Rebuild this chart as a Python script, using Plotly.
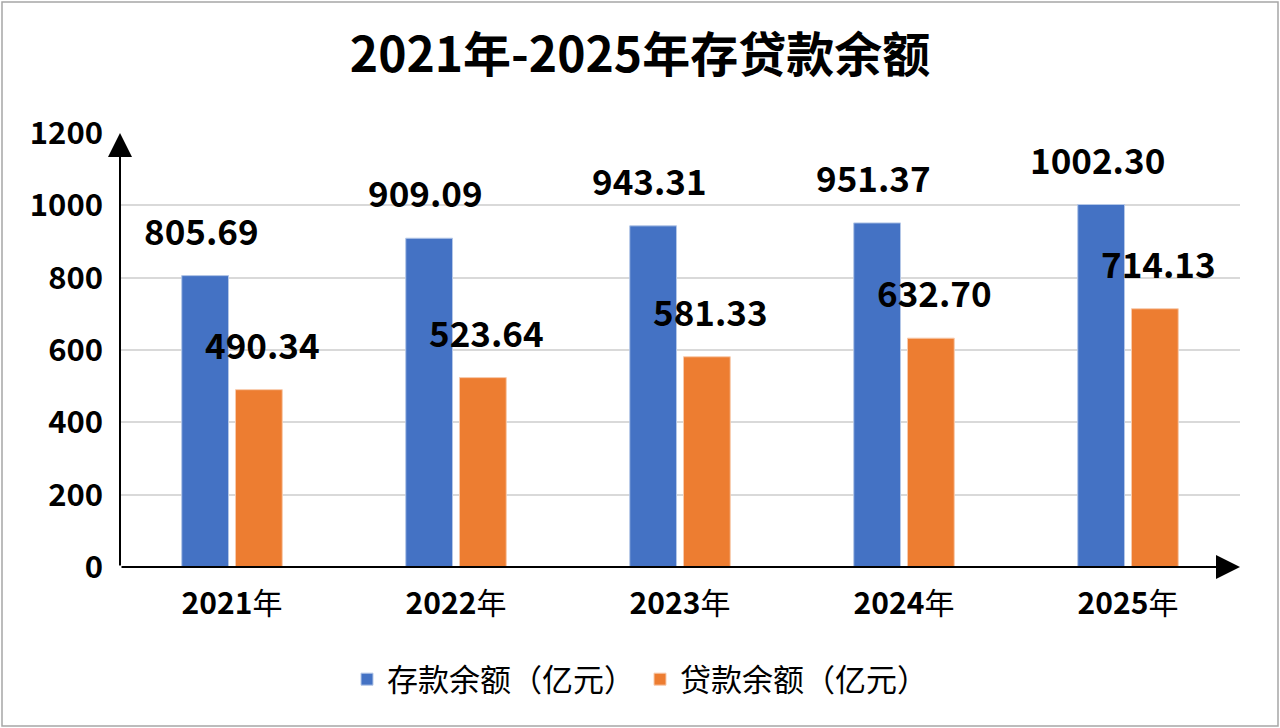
import plotly.graph_objects as go

YEARS = ["2021年", "2022年", "2023年", "2024年", "2025年"]
YEAR_TICKTEXT = ["<b>2021</b>年", "<b>2022</b>年", "<b>2023</b>年", "<b>2024</b>年", "<b>2025</b>年"]
DEPOSITS = [805.69, 909.09, 943.31, 951.37, 1002.30]
LOANS = [490.34, 523.64, 581.33, 632.70, 714.13]
SERIES_NAMES = ["存款余额（亿元）", "贷款余额（亿元）"]
Y_TICKS = [0, 200, 400, 600, 800, 1000, 1200]

BLUE = "#4472C4"
ORANGE = "#ED7D31"
FONT = "Noto Sans CJK SC"

W, H = 1280, 728
M = dict(l=120, r=40, t=133, b=161, autoexpand=False)
pw = W - M["l"] - M["r"]
ph = H - M["t"] - M["b"]

fig = go.Figure()
fig.add_trace(go.Bar(
    x=YEARS, y=DEPOSITS, name=SERIES_NAMES[0],
    marker=dict(color=BLUE, line=dict(color="#B4C7E7", width=1)),
))
fig.add_trace(go.Bar(
    x=YEARS, y=LOANS, name=SERIES_NAMES[1],
    marker=dict(color=ORANGE, line=dict(color="#F8CBAD", width=1)),
))

# value labels, floated a bit above each bar
annotations = []
for vals, dx in ((DEPOSITS, -31), (LOANS, 30)):
    for yr, v in zip(YEARS, vals):
        annotations.append(dict(
            x=yr, y=v, xref="x", yref="y", text=f"{v:.2f}",
            showarrow=False, xshift=dx, yshift=19, yanchor="bottom",
            font=dict(family=FONT, size=35, color="black", weight="bold"),
        ))

# axis arrows (tail offsets in pixels)
annotations.append(dict(
    xref="paper", yref="paper", x=0, y=1.0, ax=0, ay=ph,
    showarrow=True, arrowhead=2, arrowsize=2.4, arrowwidth=2,
    arrowcolor="black", text="",
))
annotations.append(dict(
    xref="paper", yref="paper", x=1.0, y=0, ax=-pw, ay=0,
    showarrow=True, arrowhead=2, arrowsize=2.4, arrowwidth=2,
    arrowcolor="black", text="",
))

border = dict(
    type="rect", xref="paper", yref="paper",
    x0=-(M["l"] - 2) / pw, x1=1 + (M["r"] - 2) / pw,
    y0=-(M["b"] - 2) / ph, y1=1 + (M["t"] - 2) / ph,
    line=dict(color="#A6A6A6", width=1.5), layer="below",
)

fig.update_layout(
    width=W, height=H,
    margin=M,
    paper_bgcolor="white", plot_bgcolor="white",
    barmode="group", bargap=0.52, bargroupgap=0.13,
    title=dict(
        text="2021年-2025年存贷款余额", x=0.5, xref="container", xanchor="center",
        y=1 - 55 / H, yanchor="middle",
        font=dict(family=FONT, size=48, color="black", weight="bold"),
    ),
    xaxis=dict(
        showline=False, showgrid=False, ticks="",
        tickvals=YEARS, ticktext=YEAR_TICKTEXT,
        tickfont=dict(family=FONT, size=30, color="black"),
        ticklabelstandoff=16,
    ),
    yaxis=dict(
        range=[0, 1200], tickvals=Y_TICKS, showline=False,
        gridcolor="#D9D9D9", gridwidth=1.5, zeroline=False,
        tickfont=dict(family=FONT, size=31, color="black", weight="bold"),
        ticklabelstandoff=16,
    ),
    legend=dict(
        orientation="h", x=(W / 2 - M["l"]) / pw, xanchor="center",
        y=-0.197, yanchor="top",
        font=dict(family=FONT, size=31, color="black"),
        itemwidth=30,
    ),
    annotations=annotations,
    shapes=[border],
    showlegend=True,
)

fig.write_html(
    "out.html",
    config={"displayModeBar": False},
    post_script="document.body.style.margin='0';",
)
